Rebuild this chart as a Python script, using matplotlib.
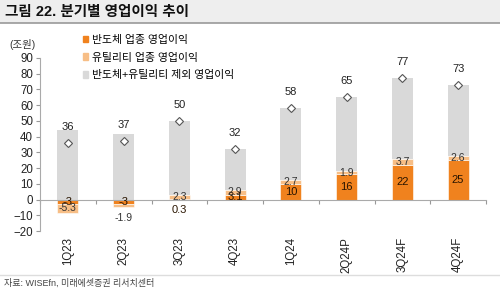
import numpy as np
import matplotlib
matplotlib.use("Agg")
import matplotlib.pyplot as plt
from matplotlib.patches import Patch, Rectangle
from matplotlib.lines import Line2D
from matplotlib.transforms import blended_transform_factory

plt.rcParams['font.family'] = ['Liberation Sans', 'Noto Sans CJK KR']

quarters = ["1Q23", "2Q23", "3Q23", "4Q23", "1Q24", "2Q24P", "3Q24F", "4Q24F"]
semi = [-3, -3, 0.3, 3.1, 10, 16, 22, 25]
utility = [-5.3, -1.9, 2.3, 2.9, 2.7, 1.9, 3.7, 2.6]
total = [36, 37, 50, 32, 58, 65, 77, 73]
semi_lbl = ["-3", "-3", "0.3", "3.1", "10", "16", "22", "25"]
util_lbl = ["-5.3", "-1.9", "2.3", "2.9", "2.7", "1.9", "3.7", "2.6"]
legend_names = ["반도체 업종 영업이익", "유틸리티 업종 영업이익", "반도체+유틸리티 제외 영업이익"]

c_semi = "#F0821E"
c_util = "#F7BE86"
c_other = "#D9D9D9"

semi = np.array(semi)
utility = np.array(utility)
total = np.array(total)
other = total - semi - utility

x = np.arange(len(quarters))
w = 0.38

fig = plt.figure(figsize=(5, 2.91), dpi=100)
ax = fig.add_axes([0.08, 0.206, 0.892, 0.595])

# stacking: positives above zero, negatives below
semi_bot = np.zeros(len(x))
util_bot = np.where(np.sign(utility) == np.sign(semi), semi, 0)
pos_top = np.maximum(semi, 0) + np.maximum(utility, 0)

ax.bar(x, semi, w, bottom=semi_bot, color=c_semi, edgecolor="white", linewidth=0.4, zorder=2)
ax.bar(x, utility, w, bottom=util_bot, color=c_util, edgecolor="white", linewidth=0.4, zorder=2)
ax.bar(x, other, w, bottom=pos_top, color=c_other, edgecolor="none", zorder=2)
ax.plot(x, total, linestyle="none", marker="D", markersize=4.5, markerfacecolor="white",
        markeredgecolor="#555555", markeredgewidth=0.8, zorder=4)

for i in x:
    ax.annotate(str(total[i]), (i, total[i]), xytext=(0, 8), textcoords="offset points",
                ha="center", va="bottom", fontsize=8, color="#222222")
    # semiconductor label
    if abs(semi[i]) < 1:
        ys = -6.4
    else:
        ys = semi_bot[i] + semi[i] / 2
    ax.text(i, ys, semi_lbl[i], ha="center", va="center", fontsize=8, color="#2a1500", zorder=5)
    # utility label
    if utility[i] < 0 and abs(utility[i]) < 2.5:
        yu = util_bot[i] + utility[i] - 7
    else:
        yu = util_bot[i] + utility[i] / 2
    ax.text(i, yu, util_lbl[i], ha="center", va="center", fontsize=7.5, color="#333333", zorder=5)

ax.set_xlim(-0.5, len(x) - 0.5)
ax.set_ylim(-20, 90)
ax.set_yticks(np.arange(-20, 91, 10))
ax.set_yticklabels(["−20" if v == -20 else ("−10" if v == -10 else str(v)) for v in np.arange(-20, 91, 10)])
ax.set_xticks(np.arange(-0.5, len(x), 1))
ax.set_xticklabels([])
ax.tick_params(axis="x", length=3, color="#999999", direction="out")
ax.tick_params(axis="y", length=3, color="#999999", labelsize=8.3, labelcolor="#222222", pad=2)
ax.spines["bottom"].set_position(("data", 0))
ax.spines["bottom"].set_color("#aaaaaa")
ax.spines["left"].set_color("#aaaaaa")
ax.spines["top"].set_visible(False)
ax.spines["right"].set_visible(False)

tr = blended_transform_factory(ax.transData, ax.transAxes)
for i, q in enumerate(quarters):
    ax.text(i, -0.035, q, transform=tr, rotation=90, ha="center", va="top", fontsize=8.3, color="#222222")

fig.text(0.044, 1 - 45 / 291, "(조원)", ha="center", va="center", fontsize=7.5, color="#333333")

handles = [Patch(color=c_semi), Patch(color=c_util), Patch(color=c_other)]
fig.legend(handles, legend_names, loc="upper left", bbox_to_anchor=(0.165, 1 - 35 / 291),
           frameon=False, fontsize=7.8, handlelength=0.55, handleheight=0.55, handletextpad=0.35,
           labelspacing=0.7, borderpad=0, borderaxespad=0)

# title band
fig.patches.append(Rectangle((0, 1 - 23 / 291), 1, 23 / 291, transform=fig.transFigure,
                             facecolor="#eeeeee", edgecolor="none", zorder=0))
fig.lines.append(Line2D([0, 1], [1 - 23 / 291] * 2, transform=fig.transFigure, color="#999999", linewidth=1.2))
fig.text(0.01, 1 - 12 / 291, "그림 22. 분기별 영업이익 추이", ha="left", va="center",
         fontsize=10.5, fontweight="bold", color="#111111")

# footer
fig.lines.append(Line2D([0, 1], [1 - 275 / 291] * 2, transform=fig.transFigure, color="#dddddd", linewidth=1))
fig.text(0.008, 1 - 283 / 291, "자료: WISEfn, 미래에셋증권 리서치센터", ha="left", va="center",
         fontsize=6.5, color="#444444")

fig.savefig("out.png", dpi=100)
